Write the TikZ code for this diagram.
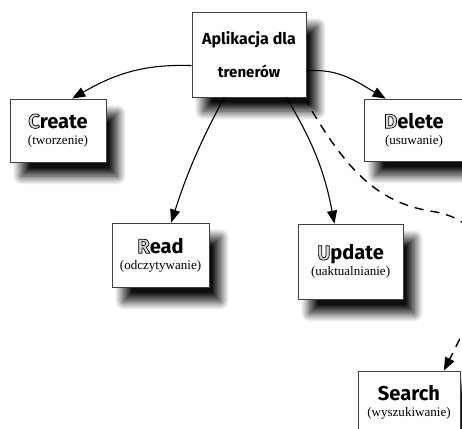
\documentclass[tikz,border=0pt]{standalone}
\usepackage{fontspec}
\setmainfont{Liberation Serif}
\newfontfamily\headfont{Fira Sans}
\usetikzlibrary{arrows.meta,shadows.blur}
\newcommand{\initial}[1]{\special{pdf:literal direct 2 Tr 0.7 w 0 0 0 RG 0.85 g}#1\special{pdf:literal direct 0 Tr 0 w 0 g 0 G}}
\newcommand{\crudtitle}[2]{{\headfont\bfseries\fontsize{20}{22}\selectfont #1}\\#2}

\begin{document}
\begin{tikzpicture}[
	box/.style={draw=black!75, line width=0.8pt, fill=white, align=center, inner sep=0pt,
		font=\fontsize{13}{16}\selectfont,
		blur shadow={shadow xshift=0.4cm, shadow yshift=-0.5cm, shadow blur radius=0.3cm, shadow blur steps=20, shadow opacity=95}},
	arr/.style={line width=1.1pt, -{Triangle[length=13pt, width=10pt]}},
	dasharr/.style={line width=1.4pt, dash pattern=on 9pt off 7pt, -{Triangle[length=13pt, width=10pt]}}
	]
			%%%%% START %%%%%
			
			\useasboundingbox (0, 0) rectangle (16.17, 15.015);
			\clip (0, 0) rectangle (16.17, 15.015);
			
			\node[box, minimum width=3.99cm, minimum height=2.975cm] (app) at (8.715, 13.11)
				{{\headfont\bfseries\fontsize{16}{18}\selectfont Aplikacja dla}\\[16pt]{\headfont\bfseries\fontsize{15}{16}\selectfont trenerów}};
			
			\node[box, minimum width=3.36cm, minimum height=2.205cm] (create) at (2.03, 10.45)
				{\crudtitle{\initial{C}reate}{(tworzenie)}};
			\node[box, minimum width=3.5cm, minimum height=2.17cm] (delete) at (14.49, 10.465)
				{\crudtitle{\initial{D}elete}{(usuwanie)}};
			\node[box, minimum width=3.395cm, minimum height=2.24cm] (read) at (5.62, 6.09)
				{\crudtitle{\initial{R}ead}{(odczytywanie)}};
			\node[box, minimum width=3.675cm, minimum height=2.625cm] (update) at (12.27, 5.86)
				{\crudtitle{\initial{U}pdate}{(uaktualnianie)}};
			\node[box, minimum width=3.57cm, minimum height=2.17cm] (search) at (14.315, 0.945)
				{\crudtitle{Search}{(wyszukiwanie)}};
			
			\draw[arr] (app.191) to[out=178, in=30] (create.66);
			\draw[arr] (app.240) to[bend right=5] (read.72);
			\draw[arr] (app.311) to[bend left=10] (update.113);
			\draw[arr] (app.344) to[out=5, in=150] (delete.132);
			
			\draw[dasharr] (app.322) .. controls (11.9, 9.45) and (12.95, 7.98) .. (15.05, 7.63)
				.. controls (18.2, 7.175) and (16.45, 3.85) .. (search.42);
			
			%%%%% END %%%%%
\end{tikzpicture}
\end{document}
